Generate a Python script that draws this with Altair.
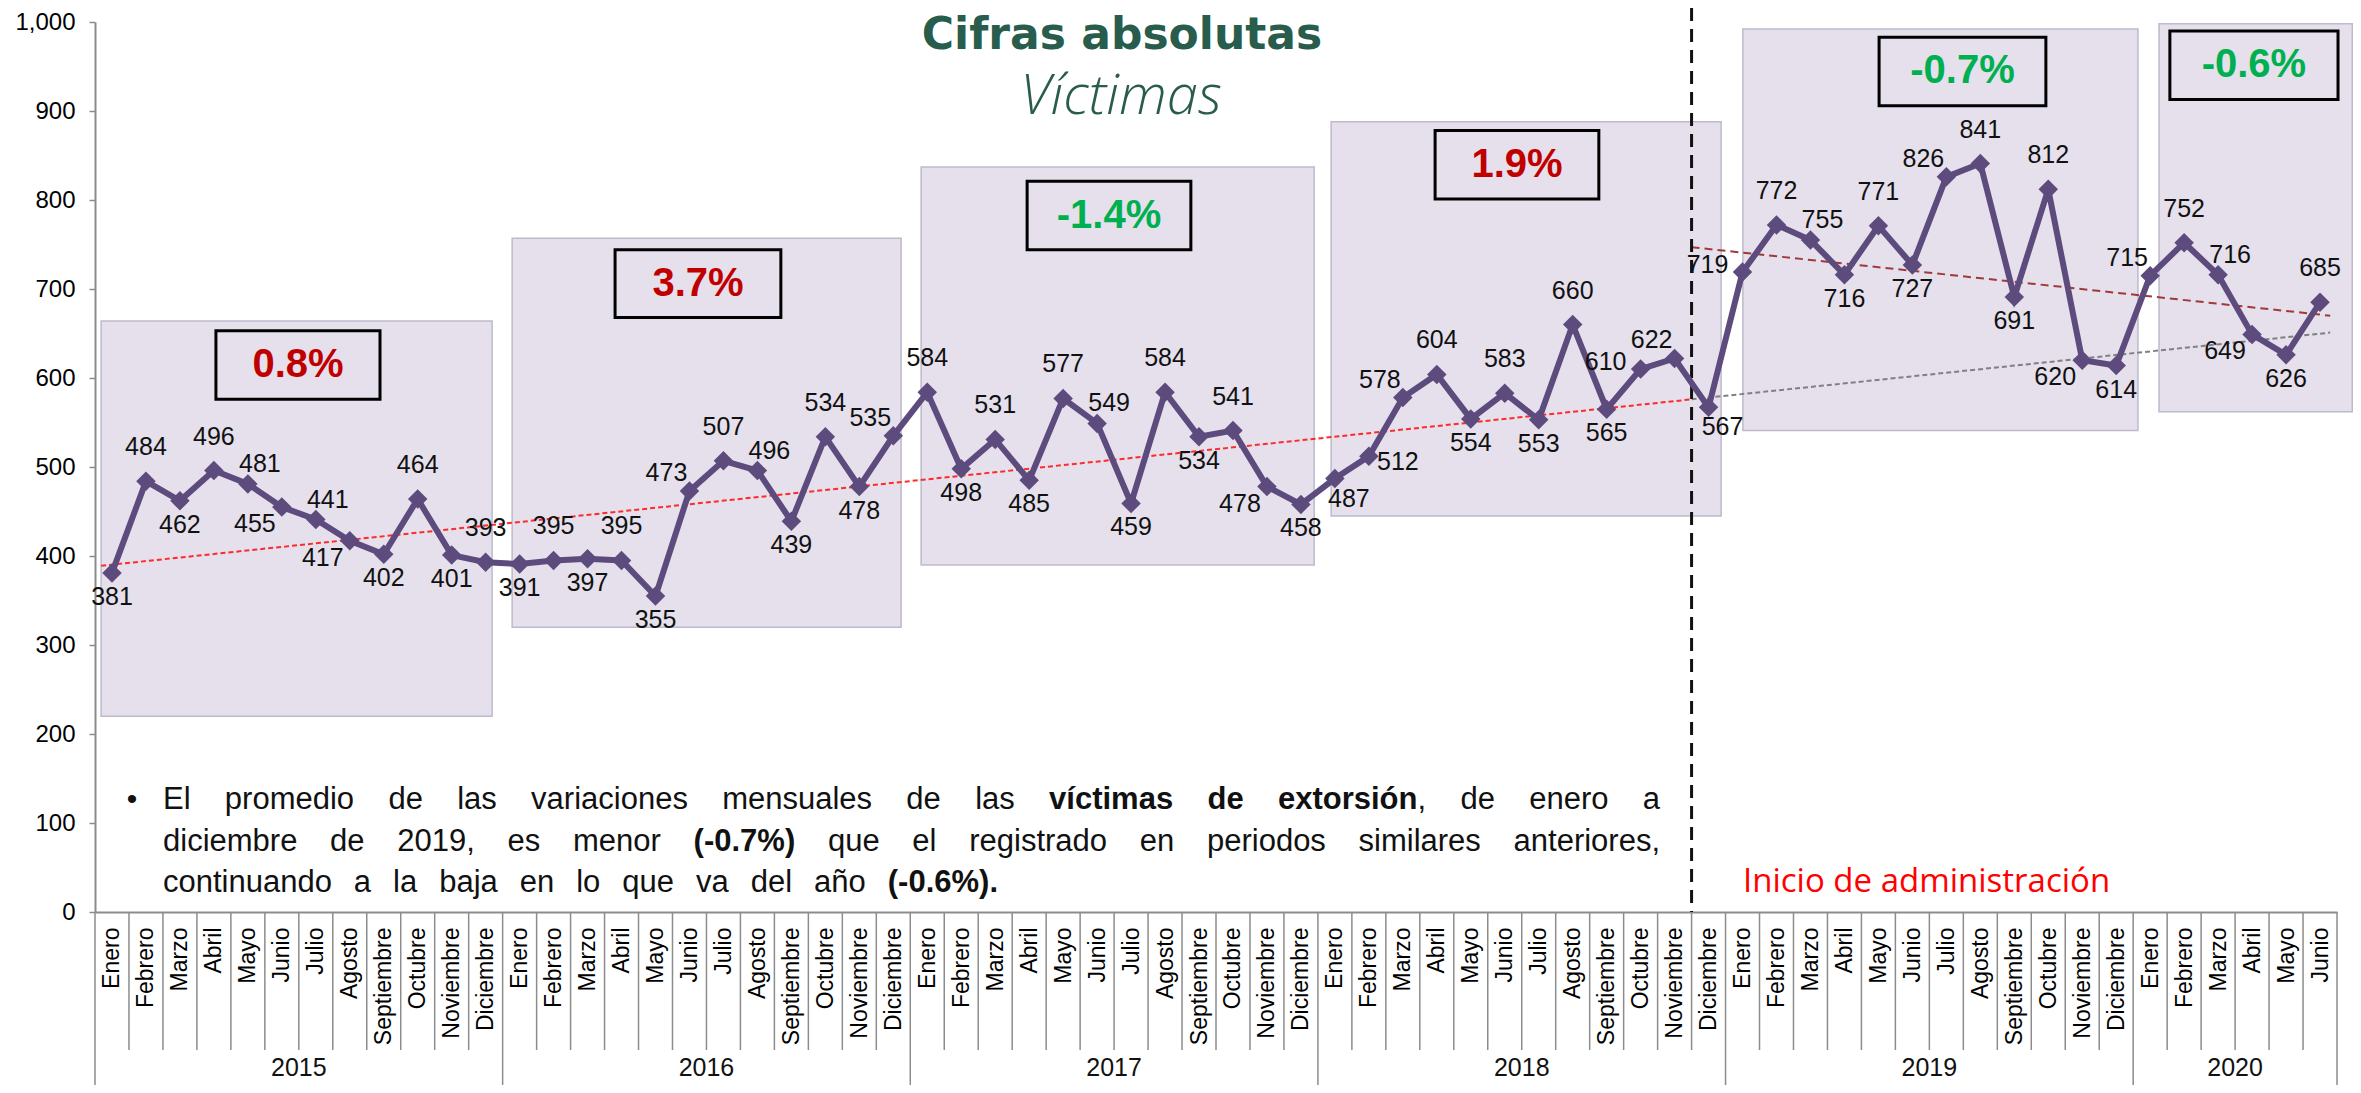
import altair as alt
import pandas as pd

# ---------------- data ----------------
months = ["Enero", "Febrero", "Marzo", "Abril", "Mayo", "Junio", "Julio",
          "Agosto", "Septiembre", "Octubre", "Noviembre", "Diciembre"]
years = ["2015", "2016", "2017", "2018", "2019", "2020"]
months_per_year = [12, 12, 12, 12, 12, 6]

values = [381, 484, 462, 496, 481, 455, 441, 417, 402, 464, 401, 393,
          391, 395, 397, 395, 355, 473, 507, 496, 439, 534, 478, 535,
          584, 498, 531, 485, 577, 549, 459, 584, 534, 541, 478, 458,
          487, 512, 578, 604, 554, 583, 553, 660, 565, 610, 622, 567,
          719, 772, 755, 716, 771, 727, 826, 841, 691, 812, 620, 614,
          715, 752, 716, 649, 626, 685]

label_pos = ["b", "a", "b", "a", "ar", "bl", "ar", "bl", "b", "a", "b", "a",
             "b", "a", "b", "a", "b", "al", "a", "ar", "b", "a", "b", "al",
             "a", "b", "a", "b", "a", "ar", "b", "a", "b", "a", "bl", "b",
             "br", "r", "al", "a", "b", "a", "b", "a", "b", "l", "al", "br",
             "l", "a", "ar", "b", "a", "b", "al", "a", "b", "a", "bl", "b",
             "al", "a", "ar", "bl", "b", "a"]

# shaded yearly panels (month index / victims)
panel_x1 = [-0.32, 11.78, 23.82, 35.89, 48.01, 60.26]
panel_x2 = [11.19, 23.23, 35.39, 47.37, 59.64, 65.95]
panel_y1 = [220, 320, 390, 445, 541, 562]
panel_y2 = [664, 757, 837, 888, 992, 998]

# average monthly variation boxes
pct_text = ["0.8%", "3.7%", "-1.4%", "1.9%", "-0.7%", "-0.6%"]
pct_kind = ["up", "up", "down", "up", "down", "down"]
pct_x1 = [3.06, 14.81, 26.94, 38.95, 52.02, 60.58]
pct_x2 = [7.89, 19.69, 31.76, 43.77, 56.93, 65.53]
pct_y1 = [576, 668, 744, 801, 906, 913]
pct_y2 = [653, 744, 821, 878, 983, 990]

# trend lines
trend_name = ["before", "extension", "after"]
trend_x1 = [-0.32, 46.5, 46.5]
trend_y1 = [389, 576, 747]
trend_x2 = [46.5, 65.3, 65.3]
trend_y2 = [576, 651, 670]

admin_x = 46.5  # boundary Nov/Dic 2018

paragraph = [
    "El promedio de las variaciones mensuales de las **víctimas de extorsión**, de enero a",
    "diciembre de 2019, es menor **(-0.7%)** que el registrado en periodos similares anteriores,",
    "continuando a la baja en lo que va del año **(-0.6%).**",
]

# ---------------- layout helpers ----------------
W, H = 2242, 890
TOP = 14
N = len(values)
STEP = W / N
FONT = "Liberation Sans, Arial, sans-serif"
PURPLE = "#5E4B7D"
GRAY = "#8C8C8C"
GREEN_T = "#285C4D"


def px2x(px):
    return px / STEP - 0.5


def py2y(py):
    return (H - py) * 1000.0 / H


XS = alt.Scale(domain=[-0.5, N - 0.5], nice=False, zero=False)
YS = alt.Scale(domain=[0, 1000], nice=False, zero=True)

month_expr = "[" + ",".join("'%s'" % m for m in months) + "][datum.value % 12]"
xaxis = alt.Axis(values=list(range(N)), labelExpr=month_expr, labelAngle=270,
                 labelFontSize=23, labelFont=FONT, labelColor="black",
                 labelPadding=15, labelOverlap=False, labelFlush=False,
                 ticks=False, grid=False, domainColor=GRAY, domainWidth=2,
                 title=None)
yaxis = alt.Axis(values=list(range(0, 1001, 100)), format=",.0f",
                 labelFontSize=24, labelFont=FONT, labelColor="black",
                 tickSize=6, tickColor=GRAY, tickWidth=1.5, domainColor=GRAY,
                 domainWidth=2, labelPadding=14, grid=False, title=None)


def X(f="x"):
    return alt.X(f + ":Q", scale=XS, axis=xaxis)


def Y(f="y"):
    return alt.Y(f + ":Q", scale=YS, axis=yaxis)


# ---------------- frames ----------------
df = pd.DataFrame({"x": list(range(N)), "y": values, "pos": label_pos,
                   "txt": [str(v) for v in values]})

panels = pd.DataFrame({"x": panel_x1, "x2": panel_x2, "y": panel_y1, "y2": panel_y2})
pct = pd.DataFrame({"x": pct_x1, "x2": pct_x2, "y": pct_y1, "y2": pct_y2,
                    "t": pct_text, "k": pct_kind})
pct["cx"] = (pct["x"] + pct["x2"]) / 2
pct["cy"] = (pct["y"] + pct["y2"]) / 2
pct["col"] = pct["k"].map({"up": "#C00000", "down": "#00B050"})

trends = pd.DataFrame({"n": trend_name, "x": trend_x1, "y": trend_y1,
                       "x2": trend_x2, "y2": trend_y2})

# month / year boundaries on the category axis
year_edges = [-0.5]
for c in months_per_year:
    year_edges.append(year_edges[-1] + c)
month_edges = [k - 0.5 for k in range(1, N) if (k - 0.5) not in year_edges]
year_centers = [(year_edges[i] + year_edges[i + 1]) / 2 for i in range(len(years))]
sep_m = pd.DataFrame({"x": month_edges})
sep_y = pd.DataFrame({"x": year_edges})
yr = pd.DataFrame({"x": year_centers, "t": years})

admin = pd.DataFrame({"x": [admin_x], "y": [py2y(-TOP)], "y2": [0]})

# ---------------- justified paragraph ----------------
REG = {' ': 278, 'E': 667, 'l': 222, 'p': 556, 'r': 333, 'o': 556, 'm': 833, 'e': 556,
       'd': 556, 'i': 222, 'a': 556, 's': 500, 'v': 500, 'c': 500, 'n': 556, 'u': 556,
       'b': 556, ',': 278, '.': 278, '0': 556, '1': 556, '2': 556, '9': 556, 'q': 556,
       'g': 556, 't': 278, 'j': 222, 'ñ': 556, 'ó': 556, 'í': 278, 'x': 500}
BOLD = {' ': 278, 'v': 556, 'í': 278, 'c': 556, 't': 333, 'i': 278, 'm': 889, 'a': 556,
        's': 556, 'd': 611, 'e': 556, 'x': 556, 'o': 611, 'r': 389, 'ó': 611, 'n': 611,
        '(': 333, '-': 333, '0': 556, '.': 278, '7': 556, '%': 889, ')': 333, '6': 556}
PFS = 31


def tw(s, bold):
    tab = BOLD if bold else REG
    return sum(tab.get(ch, 556) for ch in s) * PFS / 1000.0


def parse(line):
    words = [[]]
    for i, part in enumerate(line.split("**")):
        bold = i % 2 == 1
        for j, chunk in enumerate(part.split(" ")):
            if j > 0:
                words.append([])
            if chunk:
                words[-1].append((chunk, bold))
    return [w for w in words if w]


line_px_start = 68
line_px_end = [1565, 1565, 903]
line_py = [778, 820, 861]
rows = []
for li, line in enumerate(paragraph):
    words = parse(line)
    widths = [sum(tw(t, b) for t, b in w) for w in words]
    gap = (line_px_end[li] - line_px_start - sum(widths)) / (len(words) - 1)
    cur = line_px_start
    for w, wd in zip(words, widths):
        rx = cur
        for t, b in w:
            rows.append({"x": px2x(rx), "y": py2y(line_py[li]), "t": t, "b": b})
            rx += tw(t, b)
        cur += wd + gap
para = pd.DataFrame(rows)
bullet = pd.DataFrame({"x": [px2x(37)], "y": [py2y(line_py[0])], "t": ["•"]})

titles = pd.DataFrame({"x": [px2x(1027)], "y": [py2y(14)], "t": ["Cifras absolutas"]})
subt = pd.DataFrame({"x": [px2x(1026)], "y": [py2y(75)], "t": ["Víctimas"]})
inicio = pd.DataFrame({"x": [px2x(1648)], "y": [py2y(860)], "t": ["Inicio de administración"]})

# ---------------- layers ----------------
layers = []
layers.append(alt.Chart(panels).mark_rect(fill="#E5E0EC", stroke="#BDBACB", strokeWidth=1.5)
              .encode(x=X(), x2="x2", y=Y(), y2="y2"))

trend_style = {"before": ("#FF2A2A", [5, 3]), "extension": ("#808080", [5, 3]),
               "after": ("#A03A3A", [8, 5])}
for name, (col, dash) in trend_style.items():
    layers.append(alt.Chart(trends).transform_filter(alt.datum.n == name)
                  .mark_rule(color=col, strokeDash=dash, strokeWidth=2)
                  .encode(x=X(), x2="x2", y=Y(), y2="y2"))

layers.append(alt.Chart(admin).mark_rule(color="#111111", strokeDash=[13, 8], strokeWidth=3)
              .encode(x=X(), y=Y(), y2="y2"))

layers.append(alt.Chart(df).mark_line(color=PURPLE, strokeWidth=6)
              .encode(x=X(), y=Y()))
layers.append(alt.Chart(df).mark_point(shape="diamond", filled=True, size=380,
                                       color=PURPLE, opacity=1)
              .encode(x=X(), y=Y()))

offsets = {"a": (0, -34), "b": (0, 24), "al": (-23, -18), "ar": (12, -20),
           "bl": (-27, 17), "br": (14, 20), "l": (-35, -7), "r": (29, 6)}
for code, (dx, dy) in offsets.items():
    layers.append(alt.Chart(df).transform_filter(alt.datum.pos == code)
                  .mark_text(dx=dx, dy=dy, fontSize=25, font=FONT, color="#111111",
                             baseline="middle", align="center")
                  .encode(x=X(), y=Y(), text="txt:N"))

layers.append(alt.Chart(pct).mark_rect(fillOpacity=0, stroke="black", strokeWidth=3)
              .encode(x=X(), x2="x2", y=Y(), y2="y2"))
layers.append(alt.Chart(pct).mark_text(fontSize=40, fontWeight="bold", font=FONT,
                                       baseline="middle", align="center")
              .encode(x=X("cx"), y=Y("cy"), text="t:N",
                      color=alt.Color("col:N", scale=None)))

layers.append(alt.Chart(sep_m).mark_rule(color=GRAY, strokeWidth=1.5)
              .encode(x=X(), y=alt.value(H), y2=alt.value(H + 138)))
layers.append(alt.Chart(sep_y).mark_rule(color=GRAY, strokeWidth=1.5)
              .encode(x=X(), y=alt.value(H), y2=alt.value(H + 173)))
layers.append(alt.Chart(yr).mark_text(fontSize=25, font=FONT, color="#111111",
                                      baseline="middle", align="center")
              .encode(x=X(), y=alt.value(H + 156), text="t:N"))

layers.append(alt.Chart(para).transform_filter(alt.datum.b == False)
              .mark_text(fontSize=PFS, font=FONT, color="#111111", align="left",
                         baseline="middle")
              .encode(x=X(), y=Y(), text="t:N"))
layers.append(alt.Chart(para).transform_filter(alt.datum.b == True)
              .mark_text(fontSize=PFS, font=FONT, fontWeight="bold", color="#111111",
                         align="left", baseline="middle")
              .encode(x=X(), y=Y(), text="t:N"))
layers.append(alt.Chart(bullet).mark_text(fontSize=30, font=FONT, color="#111111",
                                          align="center", baseline="middle")
              .encode(x=X(), y=Y(), text="t:N"))

layers.append(alt.Chart(titles).mark_text(fontSize=44, fontWeight="bold",
                                          font="DejaVu Sans", color=GREEN_T,
                                          align="center", baseline="middle")
              .encode(x=X(), y=Y(), text="t:N"))
layers.append(alt.Chart(subt).mark_text(fontSize=56, fontWeight=300, fontStyle="italic",
                                        font="Open Sans", color=GREEN_T,
                                        align="center", baseline="middle")
              .encode(x=X(), y=Y(), text="t:N"))
layers.append(alt.Chart(inicio).mark_text(fontSize=33, font="Open Sans", color="#FF0000",
                                          align="left", baseline="middle")
              .encode(x=X(), y=Y(), text="t:N"))

chart = (alt.layer(*layers)
         .properties(width=W, height=H,
                     padding={"left": 87, "top": TOP, "right": 16, "bottom": 173},
                     autosize=alt.AutoSizeParams(type="none"),
                     background="white")
         .configure_view(stroke=None))

chart.save("out.html", embed_options={"renderer": "svg", "actions": False})
